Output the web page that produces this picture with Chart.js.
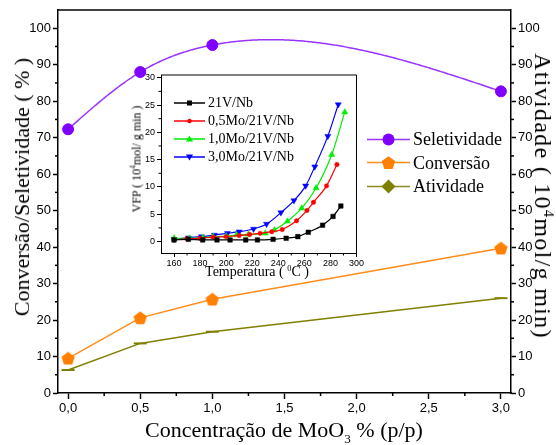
<!DOCTYPE html>
<html>
<head>
<meta charset="utf-8">
<script src="https://cdn.jsdelivr.net/npm/chart.js@4.4.1/dist/chart.umd.min.js"></script>
<style>
  body { margin: 0; background: #fff; }
  #wrap { position: relative; width: 556px; height: 445px; }
  #main { position: absolute; left: 0; top: 0; }
  #inset { position: absolute; left: 110px; top: 62px; }
  .title { position: absolute; font-family: 'Liberation Serif', serif; color: #000; white-space: nowrap; transform: translate(-50%, -50%); }
  .title sup, .title sub { font-size: 60%; }
  .leg { position: absolute; display: flex; align-items: center; font-family: 'Liberation Serif', serif; color: #000; white-space: nowrap; transform: translateY(-50%); }
</style>
</head>
<body>
<div id="wrap">
  <canvas id="main" width="556" height="445"></canvas>
  <canvas id="inset" width="255" height="225"></canvas>

  <div class="title" style="left:22px;top:187px;font-size:22px;transform:translate(-50%,-50%) rotate(-90deg)">Conversão/Seletividade ( % )</div>
  <div class="title" style="left:543px;top:196px;font-size:24px;letter-spacing:1.3px;transform:translate(-50%,-50%) rotate(90deg)">Atividade ( 10<sup>4</sup>mol/g min)</div>
  <div class="title" style="left:284px;top:432px;font-size:22px">Concentração de MoO<sub>3</sub> % (p/p)</div>
  <div class="title" style="left:137px;top:159px;font-size:12px;transform:translate(-50%,-50%) rotate(-90deg)">VFP ( 10<sup>4</sup>mol/ g min )</div>
  <div class="title" style="left:257px;top:272px;font-size:14px">Temperatura ( <sup>0</sup>C )</div>
  <div id="legends"></div>
</div>

<script>
// main chart data
const moo3 = [0.0, 0.5, 1.0, 3.0];
const seletividade = [72.3, 88.0, 95.4, 82.7];
const conversao = [9.5, 20.6, 25.7, 39.7];
const atividade = [6.3, 13.6, 16.8, 26.0];

const xTicks = [0, 0.5, 1.0, 1.5, 2.0, 2.5, 3.0];
const xMinor = [0.25, 0.75, 1.25, 1.75, 2.25, 2.75];
const yTicks = [0, 10, 20, 30, 40, 50, 60, 70, 80, 90, 100];
const yMinor = [5, 15, 25, 35, 45, 55, 65, 75, 85, 95];

// inset data (VFP vs temperature)
const tempNb = [160, 171, 182, 193, 203, 215, 224, 236, 246, 255, 263, 274, 282, 288];
const vfpNb = [0.3, 0.4, 0.3, 0.3, 0.3, 0.3, 0.3, 0.4, 0.6, 0.9, 1.7, 3.0, 4.6, 6.5];
const temp05Mo = [160, 170, 180, 190, 200, 210, 218, 226, 235, 243, 254, 262, 267, 277, 285];
const vfp05Mo = [0.3, 0.5, 0.6, 0.8, 0.9, 1.1, 1.3, 1.5, 1.8, 2.2, 3.8, 5.7, 7.2, 10.2, 14.1];
const temp10Mo = [160, 172, 182, 190, 200, 208, 217, 230, 237, 247, 258, 269, 281, 291];
const vfp10Mo = [0.6, 0.6, 0.7, 0.9, 1.0, 1.2, 1.3, 1.5, 2.1, 3.7, 6.1, 9.8, 15.9, 23.7];
const temp30Mo = [160, 171, 181, 191, 201, 210, 221, 231, 242, 252, 261, 268, 278, 286];
const vfp30Mo = [0.4, 0.7, 0.9, 1.2, 1.5, 1.8, 2.3, 3.2, 5.3, 7.5, 10.2, 13.7, 19.3, 25.1];

const tTicks = [160, 180, 200, 220, 240, 260, 280, 300];
const tMinor = [170, 190, 210, 230, 250, 270, 290];
const vTicks = [0, 5, 10, 15, 20, 25, 30];
const vMinor = [2.5, 7.5, 12.5, 17.5, 22.5, 27.5];

const purple = '#8000ff';
const orange = '#ff8000';
const olive = '#808000';

function pts(xs, ys) {
    return xs.map((x, i) => ({ x: x, y: ys[i] }));
}

function pentagon(size, color) {
    const c = document.createElement('canvas');
    c.width = size;
    c.height = size;
    const g = c.getContext('2d');
    const r = size / 2;
    g.fillStyle = color;
    g.beginPath();
    for (let i = 0; i < 5; i++) {
        const a = -Math.PI / 2 + i * 2 * Math.PI / 5;
        g.lineTo(r + r * Math.cos(a), r + 0.6 + r * Math.sin(a));
    }
    g.closePath();
    g.fill();
    return c;
}

// natural cubic spline through the points (Origin style curve)
function naturalSpline(xs, ys) {
    const n = xs.length;
    const h = [];
    for (let i = 0; i < n - 1; i++) h.push(xs[i + 1] - xs[i]);
    const a = [], b = [], c = [], d = [];
    for (let i = 1; i < n - 1; i++) {
        a.push(h[i - 1]);
        b.push(2 * (h[i - 1] + h[i]));
        c.push(h[i]);
        d.push(6 * ((ys[i + 1] - ys[i]) / h[i] - (ys[i] - ys[i - 1]) / h[i - 1]));
    }
    const m = d.length;
    for (let i = 1; i < m; i++) {
        const w = a[i] / b[i - 1];
        b[i] -= w * c[i - 1];
        d[i] -= w * d[i - 1];
    }
    const inner = new Array(m);
    for (let i = m - 1; i >= 0; i--) {
        inner[i] = (d[i] - (i < m - 1 ? c[i] * inner[i + 1] : 0)) / b[i];
    }
    const M = [0, ...inner, 0];
    return function (x) {
        let i = 0;
        while (i < n - 2 && x > xs[i + 1]) i++;
        const hi = h[i];
        const A = xs[i + 1] - x, B = x - xs[i];
        return M[i] * A * A * A / (6 * hi) + M[i + 1] * B * B * B / (6 * hi)
            + (ys[i] / hi - M[i] * hi / 6) * A + (ys[i + 1] / hi - M[i + 1] * hi / 6) * B;
    };
}

const splinePlugin = {
    id: 'splineLine',
    beforeDatasetsDraw(chart) {
        const xs = chart.scales.x, ys = chart.scales.y;
        const f = naturalSpline(moo3, seletividade);
        const ctx = chart.ctx;
        ctx.save();
        ctx.strokeStyle = '#9933ff';
        ctx.lineWidth = 1.5;
        ctx.beginPath();
        const x0 = moo3[0], x1 = moo3[moo3.length - 1];
        for (let k = 0; k <= 300; k++) {
            const x = x0 + (x1 - x0) * k / 300;
            const px = xs.getPixelForValue(x), py = ys.getPixelForValue(f(x));
            if (k === 0) ctx.moveTo(px, py); else ctx.lineTo(px, py);
        }
        ctx.stroke();
        ctx.restore();
    }
};

const frameAndMinor = {
    id: 'frameAndMinor',
    afterDraw(chart, args, opts) {
        const ctx = chart.ctx;
        const area = chart.chartArea;
        ctx.save();
        ctx.strokeStyle = '#000';
        ctx.lineWidth = opts.width;
        ctx.beginPath();
        ctx.moveTo(area.left, area.top);
        ctx.lineTo(area.right, area.top);
        if (opts.box) {
            ctx.lineTo(area.right, area.bottom);
        }
        ctx.stroke();
        opts.minor.forEach(mt => {
            const s = chart.scales[mt.axis];
            mt.values.forEach(v => {
                const p = s.getPixelForValue(v);
                ctx.beginPath();
                if (s.position === 'left') {
                    ctx.moveTo(area.left, p); ctx.lineTo(area.left - mt.len, p);
                } else if (s.position === 'right') {
                    ctx.moveTo(area.right, p); ctx.lineTo(area.right + mt.len, p);
                } else {
                    ctx.moveTo(p, area.bottom); ctx.lineTo(p, area.bottom + mt.len);
                }
                ctx.stroke();
            });
        });
        ctx.restore();
    }
};

const comma = v => v.toFixed(1).replace('.', ',');

function axisY(pos, width) {
    return {
        type: 'linear', position: pos, min: 0, max: 105,
        afterBuildTicks: s => { s.ticks = yTicks.map(v => ({ value: v })); },
        afterFit: s => { s.width = width; },
        ticks: { color: '#000', font: { family: 'Liberation Sans', size: 13 }, padding: 2 },
        grid: { drawOnChartArea: false, tickLength: 5, tickColor: '#000', tickWidth: 1.5 },
        border: { color: '#000', width: 1.5 }
    };
}

const pentImg = pentagon(14, orange);

new Chart(document.getElementById('main'), {
    type: 'line',
    data: {
        datasets: [{
            label: 'Seletividade',
            data: pts(moo3, seletividade),
            showLine: false,
            pointStyle: 'circle',
            pointRadius: 5.5,
            pointBackgroundColor: purple,
            pointBorderColor: purple,
            yAxisID: 'y'
        }, {
            label: 'Conversão',
            data: pts(moo3, conversao),
            borderColor: '#ff8c1a',
            borderWidth: 1.5,
            pointStyle: pentImg,
            yAxisID: 'y'
        }, {
            label: 'Atividade',
            data: pts(moo3, atividade),
            borderColor: olive,
            borderWidth: 1.5,
            pointStyle: 'line',
            pointRadius: 6.5,
            pointBorderWidth: 2,
            pointBorderColor: olive,
            yAxisID: 'y2'
        }]
    },
    options: {
        responsive: false,
        animation: false,
        layout: { padding: { top: 10 } },
        plugins: {
            legend: { display: false },
            tooltip: { enabled: false },
            frameAndMinor: {
                width: 1.5,
                box: false,
                minor: [
                    { axis: 'x', values: xMinor, len: 3 },
                    { axis: 'y', values: yMinor, len: 3 },
                    { axis: 'y2', values: yMinor, len: 3 }
                ]
            }
        },
        scales: {
            x: {
                type: 'linear', min: -0.07, max: 3.07,
                afterBuildTicks: s => { s.ticks = xTicks.map(v => ({ value: v })); },
                afterFit: s => { s.height = 52; },
                ticks: { color: '#000', font: { family: 'Liberation Sans', size: 13 }, padding: 2, maxRotation: 0, callback: v => comma(v) },
                grid: { drawOnChartArea: false, tickLength: 6, tickColor: '#000', tickWidth: 1.5 },
                border: { color: '#000', width: 1.5 }
            },
            y: axisY('left', 58),
            y2: axisY('right', 45)
        }
    },
    plugins: [splinePlugin, frameAndMinor]
});

// inset chart
const insetSeries = [
    { label: '21V/Nb', xs: tempNb, ys: vfpNb, color: '#000000', style: 'rect', radius: 3.2, rot: 0 },
    { label: '0,5Mo/21V/Nb', xs: temp05Mo, ys: vfp05Mo, color: '#ff0000', style: 'circle', radius: 2.2, rot: 0 },
    { label: '1,0Mo/21V/Nb', xs: temp10Mo, ys: vfp10Mo, color: '#00ee00', style: 'triangle', radius: 3.5, rot: 0 },
    { label: '3,0Mo/21V/Nb', xs: temp30Mo, ys: vfp30Mo, color: '#0000ff', style: 'triangle', radius: 3.5, rot: 180 }
];

new Chart(document.getElementById('inset'), {
    type: 'line',
    data: {
        datasets: insetSeries.map(s => ({
            label: s.label,
            data: pts(s.xs, s.ys),
            borderColor: s.color,
            backgroundColor: s.color,
            borderWidth: 1.2,
            cubicInterpolationMode: 'monotone',
            pointStyle: s.style,
            pointRadius: s.radius,
            pointRotation: s.rot,
            pointBorderWidth: 0.5
        }))
    },
    options: {
        responsive: false,
        animation: false,
        layout: { padding: { top: 13, right: 8 } },
        plugins: {
            legend: { display: false },
            tooltip: { enabled: false },
            frameAndMinor: {
                width: 1,
                box: true,
                minor: [
                    { axis: 'x', values: tMinor, len: 2.5 },
                    { axis: 'y', values: vMinor, len: 2.5 }
                ]
            }
        },
        scales: {
            x: {
                type: 'linear', min: 150, max: 300,
                afterBuildTicks: s => { s.ticks = tTicks.map(v => ({ value: v })); },
                afterFit: s => { s.height = 34; },
                ticks: { color: '#000', font: { family: 'Liberation Sans', size: 9 }, padding: 1, maxRotation: 0 },
                grid: { drawOnChartArea: false, tickLength: 4, tickColor: '#000', tickWidth: 1 },
                border: { color: '#000', width: 1 }
            },
            y: {
                type: 'linear', min: -2.1, max: 30.5,
                afterBuildTicks: s => { s.ticks = vTicks.map(v => ({ value: v })); },
                afterFit: s => { s.width = 51; },
                ticks: { color: '#000', font: { family: 'Liberation Sans', size: 9 }, padding: 2 },
                grid: { drawOnChartArea: false, tickLength: 4, tickColor: '#000', tickWidth: 1 },
                border: { color: '#000', width: 1 }
            }
        }
    },
    plugins: [frameAndMinor]
});

// legends
function marker(kind, color, cx, cy) {
    if (kind === 'circle') return `<circle cx="${cx}" cy="${cy}" r="6" fill="${color}"/>`;
    if (kind === 'pentagon') {
        let p = [];
        for (let i = 0; i < 5; i++) {
            const a = -Math.PI / 2 + i * 2 * Math.PI / 5;
            p.push((cx + 7 * Math.cos(a)).toFixed(1) + ',' + (cy + 0.8 + 7 * Math.sin(a)).toFixed(1));
        }
        return `<polygon points="${p.join(' ')}" fill="${color}"/>`;
    }
    if (kind === 'diamond') return `<polygon points="${cx},${cy - 7} ${cx + 7},${cy} ${cx},${cy + 7} ${cx - 7},${cy}" fill="${color}"/>`;
    if (kind === 'rect') return `<rect x="${cx - 2.5}" y="${cy - 2.5}" width="5" height="5" fill="${color}"/>`;
    if (kind === 'dot') return `<circle cx="${cx}" cy="${cy}" r="2.2" fill="${color}"/>`;
    if (kind === 'tri') return `<polygon points="${cx},${cy - 3.5} ${cx + 3.6},${cy + 2.6} ${cx - 3.6},${cy + 2.6}" fill="${color}"/>`;
    if (kind === 'tridown') return `<polygon points="${cx},${cy + 3.5} ${cx + 3.6},${cy - 2.6} ${cx - 3.6},${cy - 2.6}" fill="${color}"/>`;
    return '';
}

const mainLegend = [
    { label: 'Seletividade', line: '#9933ff', mark: 'circle', color: purple },
    { label: 'Conversão', line: '#ff8c1a', mark: 'pentagon', color: orange },
    { label: 'Atividade', line: '#8a8a20', mark: 'diamond', color: olive }
];
const insetLegend = [
    { label: '21V/Nb', line: '#000', mark: 'rect', color: '#000' },
    { label: '0,5Mo/21V/Nb', line: '#ff0000', mark: 'dot', color: '#ff0000' },
    { label: '1,0Mo/21V/Nb', line: '#00ee00', mark: 'tri', color: '#00ee00' },
    { label: '3,0Mo/21V/Nb', line: '#0000ff', mark: 'tridown', color: '#0000ff' }
];

function buildLegend(items, left, top0, step, lineW, fontSize, gap) {
    let html = '';
    items.forEach((it, i) => {
        const h = 18;
        html += `<div class="leg" style="left:${left}px;top:${top0 + i * step}px;font-size:${fontSize}px">` +
            `<svg width="${lineW}" height="${h}"><line x1="0" y1="${h / 2}" x2="${lineW}" y2="${h / 2}" stroke="${it.line}" stroke-width="1.5"/>` +
            marker(it.mark, it.color, lineW / 2, h / 2) + `</svg>` +
            `<span style="margin-left:${gap}px">${it.label}</span></div>`;
    });
    return html;
}

document.getElementById('legends').innerHTML =
    buildLegend(mainLegend, 367, 139, 23.5, 43, 18, 3) +
    buildLegend(insetLegend, 174, 103, 18, 31, 14, 3);
</script>
</body>
</html>
